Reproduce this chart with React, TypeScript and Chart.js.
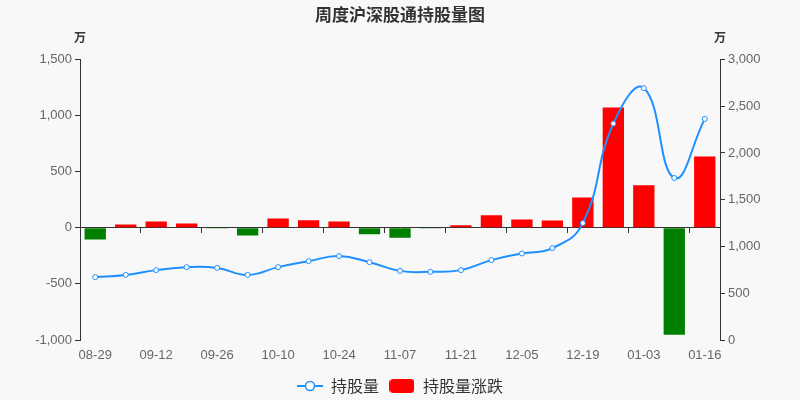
import React, { useEffect, useRef } from "react";
import { Chart, registerables } from "chart.js";

Chart.register(...registerables);

// semaines (étiquettes de l'axe X)
const weeks = [
  "08-29", "09-05", "09-12", "09-19", "09-26", "10-03", "10-10",
  "10-17", "10-24", "10-31", "11-07", "11-14", "11-21", "11-28",
  "12-05", "12-12", "12-19", "12-26", "01-03", "01-09", "01-16",
];
// 持股量 (万) - axe de droite
const holdings = [
  672, 696, 747, 779, 771, 696, 779, 843, 897, 832, 739,
  729, 747, 854, 925, 982, 1250, 2314, 2693, 1732, 2364,
];
// 持股量涨跌 (万) - axe de gauche
const changes = [
  -104, 30, 56, 38, -6, -69, 83, 68, 56, -57, -89,
  -6, 23, 112, 74, 65, 270, 1071, 378, -953, 634,
];
const leftTicks = [-1000, -500, 0, 500, 1000, 1500];
const rightTicks = [0, 500, 1000, 1500, 2000, 2500, 3000];

const FONT = "'Noto Sans CJK SC', 'Noto Sans', sans-serif";
const TICK_FONT = "'Liberation Sans', Arial, sans-serif";
const BLUE = "#1E90FF";

const fmt = (v: number | string) => Number(v).toLocaleString("en-US");

// icône de légende : ligne + cercle vide
function lineIcon() {
  const c = document.createElement("canvas");
  c.width = 26;
  c.height = 14;
  const g = c.getContext("2d")!;
  g.strokeStyle = BLUE;
  g.lineWidth = 2;
  g.beginPath();
  g.moveTo(0, 7);
  g.lineTo(26, 7);
  g.stroke();
  g.beginPath();
  g.arc(13, 7, 4.5, 0, Math.PI * 2);
  g.fillStyle = "#fff";
  g.fill();
  g.lineWidth = 1.5;
  g.stroke();
  return c;
}

// icône de légende : rectangle arrondi rouge
function barIcon() {
  const c = document.createElement("canvas");
  c.width = 25;
  c.height = 14;
  const g = c.getContext("2d")!;
  g.fillStyle = "#FF0000";
  g.beginPath();
  g.roundRect(0, 0, 25, 14, 4);
  g.fill();
  return c;
}

// unité "万" au-dessus de chaque axe Y
const unitPlugin = {
  id: "units",
  afterDraw(chart: any) {
    const { ctx, chartArea, scales } = chart;
    ctx.save();
    ctx.font = `bold 12px ${FONT}`;
    ctx.fillStyle = "#333";
    ctx.textAlign = "center";
    ctx.textBaseline = "middle";
    ctx.fillText("万", scales.y.right, chartArea.top - 22);
    ctx.fillText("万", scales.y1.left, chartArea.top - 22);
    ctx.restore();
  },
};

const App = () => {
  const canvasRef = useRef<HTMLCanvasElement>(null);

  useEffect(() => {
    if (!canvasRef.current) return;
    const icons = [lineIcon(), barIcon()];

    const chart = new Chart(canvasRef.current, {
      type: "bar",
      data: {
        labels: weeks,
        datasets: [
          {
            type: "line",
            label: "持股量",
            data: holdings,
            yAxisID: "y1",
            xAxisID: "x",
            borderColor: BLUE,
            borderWidth: 2,
            tension: 0.45,
            pointRadius: 2.5,
            pointBorderWidth: 1,
            pointBackgroundColor: "#fff",
            pointBorderColor: BLUE,
            order: 0,
          } as any,
          {
            type: "bar",
            label: "持股量涨跌",
            data: changes,
            yAxisID: "y",
            xAxisID: "x",
            backgroundColor: changes.map((v) => (v >= 0 ? "#FF0000" : "#008000")),
            barPercentage: 0.7,
            categoryPercentage: 1,
            order: 1,
          },
        ],
      },
      options: {
        animation: false,
        responsive: true,
        maintainAspectRatio: false,
        layout: { padding: { left: 0, right: 0, top: 0, bottom: -4 } },
        font: { family: FONT },
        plugins: {
          title: {
            display: true,
            text: "周度沪深股通持股量图",
            color: "#333",
            font: { family: FONT, size: 17, weight: "bold" },
            padding: { top: 4, bottom: 35 },
          },
          legend: {
            position: "bottom",
            labels: {
              usePointStyle: true,
              pointStyleWidth: 26,
              boxHeight: 14,
              padding: 10,
              color: "#333",
              font: { family: FONT, size: 16 },
              generateLabels(c: any) {
                const items = Chart.defaults.plugins.legend.labels.generateLabels(c);
                return items.map((it: any, i: number) => ({ ...it, pointStyle: icons[i] }));
              },
            },
          },
          tooltip: { enabled: false },
        },
        scales: {
          x: {
            type: "category",
            offset: true,
            grid: { display: false },
            border: { display: false },
            ticks: {
              autoSkip: false,
              maxRotation: 0,
              color: "#666",
              padding: 0,
              font: { family: TICK_FONT, size: 13 },
              callback: (_v: any, i: number) => (i % 2 === 0 ? weeks[i] : ""),
            },
            afterFit: (s: any) => {
              s.height = 28;
            },
          },
          x2: {
            type: "category",
            position: { y: 0 } as any,
            offset: true,
            grid: {
              offset: true,
              drawOnChartArea: false,
              tickLength: 5,
              color: (ctx: any) => (ctx.index % 2 === 0 ? "#333" : "rgba(0,0,0,0)"),
            },
            border: { color: "#333" },
            ticks: { display: false },
          },
          y: {
            position: "left",
            min: leftTicks[0],
            max: leftTicks[leftTicks.length - 1],
            grid: { drawOnChartArea: false, tickLength: 5, color: "#333" },
            border: { color: "#333" },
            ticks: {
              stepSize: 500,
              color: "#666",
              font: { family: TICK_FONT, size: 13 },
              callback: (v: any) => fmt(v),
            },
            afterFit: (s: any) => {
              s.width = 80;
            },
          },
          y1: {
            position: "right",
            min: rightTicks[0],
            max: rightTicks[rightTicks.length - 1],
            grid: { drawOnChartArea: false, tickLength: 5, color: "#333" },
            border: { color: "#333" },
            ticks: {
              stepSize: 500,
              color: "#666",
              font: { family: TICK_FONT, size: 13 },
              callback: (v: any) => fmt(v),
            },
            afterFit: (s: any) => {
              s.width = 80;
            },
          },
        },
      } as any,
      plugins: [unitPlugin],
    });

    return () => {
      chart.destroy();
    };
  }, []);

  return (
    <div
      style={{
        position: "fixed",
        left: 0,
        top: 0,
        width: 800,
        height: 400,
        background: "#f8f8f8",
      }}
    >
      <canvas ref={canvasRef} />
    </div>
  );
};

export default App;
